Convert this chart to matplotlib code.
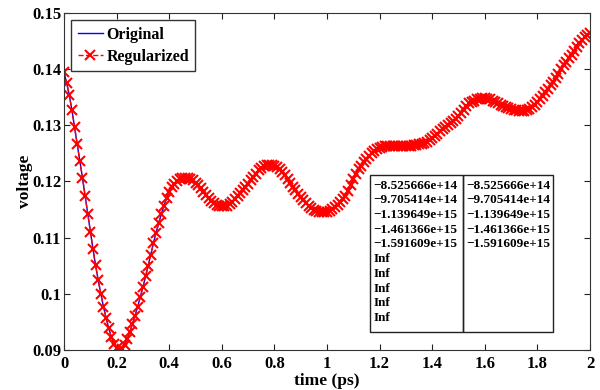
import matplotlib
matplotlib.use("Agg")
import matplotlib.pyplot as plt
from matplotlib.patches import Rectangle

plt.rcParams['font.family'] = ['Liberation Serif', 'DejaVu Serif']
plt.rcParams['font.weight'] = 'bold'

# time axis, 0.01 ps steps
time_ps = [i / 100 for i in range(201)]

# voltage (original and regularized overlap)
voltage = [
    0.1395, 0.1375, 0.1354, 0.1327, 0.1297, 0.1267, 0.1237, 0.1207, 0.1175, 0.1142,
    0.1110, 0.1080, 0.1051, 0.1024, 0.1000, 0.0977, 0.0957, 0.0939, 0.0923, 0.0911,
    0.0903, 0.0900, 0.0901, 0.0908, 0.0919, 0.0932, 0.0946, 0.0961, 0.0977, 0.0994,
    0.1012, 0.1031, 0.1050, 0.1070, 0.1090, 0.1109, 0.1126, 0.1142, 0.1157, 0.1170,
    0.1181, 0.1190, 0.1196, 0.1201, 0.1204, 0.1206, 0.1207, 0.1207, 0.1205, 0.1202,
    0.1198, 0.1193, 0.1188, 0.1182, 0.1176, 0.1171, 0.1166, 0.1162, 0.1159, 0.1157,
    0.1156, 0.1156, 0.1157, 0.1160, 0.1164, 0.1169, 0.1174, 0.1179, 0.1184, 0.1190,
    0.1196, 0.1202, 0.1208, 0.1214, 0.1220, 0.1224, 0.1227, 0.1229, 0.1230, 0.1230,
    0.1228, 0.1226, 0.1222, 0.1217, 0.1211, 0.1205, 0.1198, 0.1191, 0.1185, 0.1178,
    0.1172, 0.1167, 0.1162, 0.1157, 0.1153, 0.1150, 0.1148, 0.1146, 0.1145, 0.1145,
    0.1146, 0.1148, 0.1151, 0.1155, 0.1159, 0.1163, 0.1168, 0.1175, 0.1183, 0.1193,
    0.1204, 0.1214, 0.1222, 0.1228, 0.1234, 0.1240, 0.1245, 0.1250, 0.1254, 0.1257,
    0.1260, 0.1262, 0.1263, 0.1264, 0.1264, 0.1264, 0.1264, 0.1264, 0.1264, 0.1264,
    0.1264, 0.1264, 0.1264, 0.1265, 0.1265, 0.1266, 0.1267, 0.1269, 0.1271, 0.1274,
    0.1277, 0.1281, 0.1285, 0.1289, 0.1293, 0.1297, 0.1300, 0.1304, 0.1308, 0.1312,
    0.1317, 0.1322, 0.1328, 0.1334, 0.1339, 0.1342, 0.1344, 0.1346, 0.1347, 0.1348,
    0.1348, 0.1347, 0.1346, 0.1344, 0.1342, 0.1340, 0.1337, 0.1335, 0.1333, 0.1331,
    0.1329, 0.1328, 0.1327, 0.1326, 0.1326, 0.1326, 0.1327, 0.1329, 0.1332, 0.1336,
    0.1341, 0.1347, 0.1353, 0.1359, 0.1365, 0.1371, 0.1378, 0.1384, 0.1392, 0.1400,
    0.1407, 0.1413, 0.1420, 0.1426, 0.1433, 0.1440, 0.1446, 0.1452, 0.1457, 0.1461,
    0.1465,
]

# numbers shown in the boxed table
col_left = ["\u22128.525666e+14", "\u22129.705414e+14", "\u22121.139649e+15",
            "\u22121.461366e+15", "\u22121.591609e+15",
            "Inf", "Inf", "Inf", "Inf", "Inf"]
col_right = ["\u22128.525666e+14", "\u22129.705414e+14", "\u22121.139649e+15",
             "\u22121.461366e+15", "\u22121.591609e+15"]

xticks = [0, 0.2, 0.4, 0.6, 0.8, 1, 1.2, 1.4, 1.6, 1.8, 2]
xtick_labels = ["0", "0.2", "0.4", "0.6", "0.8", "1", "1.2", "1.4", "1.6", "1.8", "2"]
yticks = [0.09, 0.10, 0.11, 0.12, 0.13, 0.14, 0.15]
ytick_labels = ["0.09", "0.1", "0.11", "0.12", "0.13", "0.14", "0.15"]

fig = plt.figure(figsize=(6, 3.9), dpi=100)
ax = fig.add_axes([0.1067, 0.1026, 0.8766, 0.8641])

ax.plot(time_ps, voltage, color='blue', lw=1.0, label='Original')
ax.plot(time_ps, voltage, color='red', lw=1.0, ls='--', marker='x',
        ms=6.5, mew=1.5, label='Regularized')

ax.set_xlim(0, 2)
ax.set_ylim(0.09, 0.15)
ax.set_xticks(xticks)
ax.set_xticklabels(xtick_labels)
ax.set_yticks(yticks)
ax.set_yticklabels(ytick_labels)
ax.tick_params(direction='in', length=4, width=0.8, top=True, right=True,
               labelsize=12, colors='#222222', labelcolor='black')
ax.tick_params(axis='x', pad=4)
ax.tick_params(axis='y', pad=2)
for s in ax.spines.values():
    s.set_color('#333333')
    s.set_linewidth(0.8)

ax.set_xlabel('time (ps)', fontsize=12.5, fontweight='bold', labelpad=1)
ax.set_ylabel('voltage', fontsize=12.5, fontweight='bold', labelpad=-1)

leg = ax.legend(loc='upper left', fontsize=11.5, handlelength=1.6,
                handletextpad=0.2, borderpad=0.4, labelspacing=0.4,
                borderaxespad=0.45, fancybox=False, framealpha=1)
leg.get_frame().set_edgecolor('#333333')
leg.get_frame().set_linewidth(1.0)

# boxed table drawn in axes fractions
tx0, tx1, tx2 = 0.582, 0.759, 0.929
ty0, ty1 = 0.054, 0.5185
for a, b in [(tx0, tx1), (tx1, tx2)]:
    ax.add_patch(Rectangle((a, ty0), b - a, ty1 - ty0, transform=ax.transAxes,
                           fill=False, ec='#222222', lw=1.0, zorder=5))
ax.text(tx0 + 0.006, ty1 - 0.013, "\n".join(col_left), transform=ax.transAxes,
        va='top', ha='left', fontsize=9.5, linespacing=1.3, zorder=6)
ax.text(tx1 + 0.006, ty1 - 0.013, "\n".join(col_right), transform=ax.transAxes,
        va='top', ha='left', fontsize=9.5, linespacing=1.3, zorder=6)

fig.savefig('out.png', dpi=100)
